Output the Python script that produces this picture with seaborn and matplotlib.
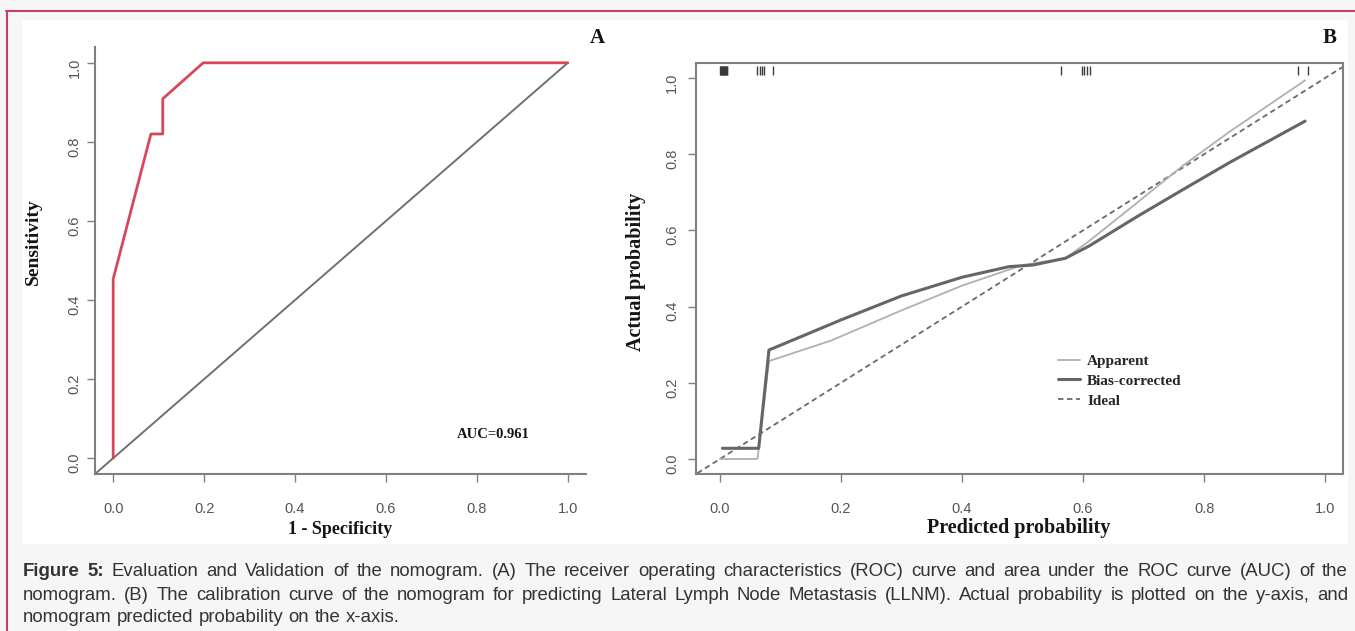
import matplotlib
matplotlib.use('Agg')
import matplotlib.pyplot as plt
from matplotlib.lines import Line2D
from matplotlib.patches import Rectangle
import seaborn as sns

# panel A: ROC curve
roc_fpr = [0.0, 0.0, 0.083, 0.109, 0.109, 0.198, 1.0]
roc_tpr = [0.0, 0.453, 0.82, 0.82, 0.909, 1.0, 1.0]
chance_x = [-0.04, 1.0]
chance_y = [-0.04, 1.0]
auc_label = 'AUC=0.961'

# panel B: calibration curve
pred_apparent = [0.0, 0.062, 0.081, 0.184, 0.30, 0.40, 0.50, 0.571, 0.61, 0.688, 0.765, 0.843, 0.967]
act_apparent = [0.0, 0.0, 0.257, 0.311, 0.39, 0.455, 0.509, 0.527, 0.572, 0.671, 0.77, 0.86, 0.994]
pred_bias = [0.004, 0.064, 0.081, 0.2, 0.30, 0.40, 0.478, 0.517, 0.571, 0.61, 0.688, 0.765, 0.843, 0.967]
act_bias = [0.028, 0.028, 0.286, 0.365, 0.428, 0.477, 0.505, 0.509, 0.527, 0.559, 0.635, 0.707, 0.779, 0.887]
ideal_x = [-0.05, 1.05]
ideal_y = [-0.05, 1.05]
# predicted probabilities shown as rug at the top
rug_pred = [0.0, 0.001, 0.002, 0.003, 0.004, 0.005, 0.006, 0.007, 0.008, 0.009, 0.010, 0.011, 0.012,
            0.062, 0.066, 0.069, 0.073, 0.088, 0.563, 0.598, 0.602, 0.606, 0.612, 0.956, 0.972]

ticks = [0.0, 0.2, 0.4, 0.6, 0.8, 1.0]
tick_labels = ['0.0', '0.2', '0.4', '0.6', '0.8', '1.0']

caption_1 = ('Evaluation and Validation of the nomogram. (A) The receiver operating characteristics '
             '(ROC) curve and area under the ROC curve (AUC) of the')
caption_2 = ('nomogram. (B) The calibration curve of the nomogram for predicting Lateral Lymph Node '
             'Metastasis (LLNM). Actual probability is plotted on the y-axis, and')
caption_3 = 'nomogram predicted probability on the x-axis.'

W, H = 1355, 631
sns.set_theme(style='ticks')
plt.rcParams['font.family'] = ['Liberation Sans', 'DejaVu Sans']

fig = plt.figure(figsize=(W / 100, H / 100), dpi=100, facecolor='#f6f6f6')


def box(l, t, r, b):
    return [l / W, 1 - b / H, (r - l) / W, (b - t) / H]


def ftext(x, y, s, **kw):
    return fig.text(x / W, 1 - y / H, s, **kw)


# white image area and the crimson frame
fig.patches.append(Rectangle((22 / W, 1 - 544 / H), 1326 / W, 524 / H, transform=fig.transFigure,
                             facecolor='white', edgecolor='none', zorder=-5))
fig.lines.append(Line2D([6 / W, 1], [1 - 11 / H, 1 - 11 / H], transform=fig.transFigure,
                        color='#c4405f', lw=1.5))
fig.lines.append(Line2D([7 / W, 7 / W], [1 - 11 / H, 0], transform=fig.transFigure,
                        color='#c4405f', lw=1.5))

spine_col = '#808080'
serif_bold = dict(family='Liberation Serif', fontweight='bold', color='#151515')


def style_axes(ax, ypad):
    ax.set_facecolor('white')
    ax.set_xticks(ticks)
    ax.set_xticklabels(tick_labels)
    ax.set_yticks(ticks)
    ax.set_yticklabels(tick_labels)
    ax.set_xlabel('')
    ax.set_ylabel('')
    for sp in ax.spines.values():
        sp.set_color(spine_col)
        sp.set_linewidth(1.5)
    ax.tick_params(direction='out', length=6, width=1, color=spine_col,
                   labelcolor='#555555', labelsize=10.5)
    ax.tick_params(axis='x', pad=14)
    ax.tick_params(axis='y', pad=ypad, labelrotation=90)


# ---- panel A
ax1 = fig.add_axes(box(95, 47, 586, 474))
sns.lineplot(x=chance_x, y=chance_y, ax=ax1, color='#707070', lw=1.4)
sns.lineplot(x=roc_fpr, y=roc_tpr, ax=ax1, sort=False, estimator=None, color='#d9475a', lw=2)
ax1.set_xlim(-0.04, 1.04)
ax1.set_ylim(-0.04, 1.04)
style_axes(ax1, 3.5)
ax1.spines['top'].set_visible(False)
ax1.spines['right'].set_visible(False)

ftext(493, 435, auc_label, fontsize=10.5, ha='center', va='center', **serif_bold)
ftext(33, 242, 'Sensitivity', fontsize=14, rotation=90, ha='center', va='center', **serif_bold)
ftext(340, 530, '1 - Specificity', fontsize=13, ha='center', va='center', **serif_bold)
ftext(597, 38, 'A', fontsize=15, ha='center', va='center', **serif_bold)

# ---- panel B
ax2 = fig.add_axes(box(696, 62.8, 1343, 474.2))
sns.lineplot(x=ideal_x, y=ideal_y, ax=ax2, color='#6a6a6a', lw=1.3, dashes=False,
             linestyle=(0, (3, 2)), label='Ideal')
sns.lineplot(x=pred_apparent, y=act_apparent, ax=ax2, sort=False, estimator=None,
             color='#b0b0b0', lw=1.3, label='Apparent')
sns.lineplot(x=pred_bias, y=act_bias, ax=ax2, sort=False, estimator=None,
             color='#666666', lw=2.2, label='Bias-corrected')
ax2.vlines(rug_pred, 0.970, 0.992, transform=ax2.get_xaxis_transform(), color='#3a3a3a', lw=1)
ax2.set_xlim(-0.0396, 1.0296)
ax2.set_ylim(-0.04, 1.04)
style_axes(ax2, 6)

handles, labels = ax2.get_legend_handles_labels()
order = [1, 2, 0]
ax2.legend([handles[i] for i in order], [labels[i] for i in order], loc='center left',
           bbox_to_anchor=(0.559, 0.205), bbox_transform=ax2.transData, frameon=False,
           prop={'family': 'Liberation Serif', 'weight': 'bold', 'size': 11},
           handlelength=1.45, handletextpad=0.45, labelspacing=0.4, borderpad=0, borderaxespad=0)

ftext(636, 272, 'Actual probability', fontsize=14.5, rotation=90, ha='center', va='center', **serif_bold)
ftext(1019, 528, 'Predicted probability', fontsize=14.5, ha='center', va='center', **serif_bold)
ftext(1330, 38, 'B', fontsize=15, ha='center', va='center', **serif_bold)

# ---- caption, justified between x0 and x1
renderer = fig.canvas.get_renderer()
x0, x1 = 23, 1348
cap_lines = [
    [('Figure', 'bold'), ('5:', 'bold')] + [(w, 'normal') for w in caption_1.split()],
    [(w, 'normal') for w in caption_2.split()],
    [(w, 'normal') for w in caption_3.split()],
]
cap_y = [572, 595, 617]


def place_words(tokens, y, size):
    arts = [ftext(0, y, w, fontsize=size, fontweight=wt, color='#333333', ha='left', va='center',
                  family='Liberation Sans') for w, wt in tokens]
    widths = [a.get_window_extent(renderer).width for a in arts]
    return arts, widths


probe, pw = place_words(cap_lines[0], 0, 10)
natural = sum(pw) + (len(pw) - 1) * 0.278 * 10 * 100 / 72
for a in probe:
    a.remove()
cap_size = 10 * (x1 - x0) * 0.96 / natural

for i, (tokens, y) in enumerate(zip(cap_lines, cap_y)):
    arts, widths = place_words(tokens, y, cap_size)
    if i < 2:
        gap = (x1 - x0 - sum(widths)) / (len(widths) - 1)
    else:
        gap = 0.278 * cap_size * 100 / 72
    x = x0
    for a, w in zip(arts, widths):
        a.set_x(x / W)
        x += w + gap

fig.savefig('out.png', dpi=100, facecolor=fig.get_facecolor())
